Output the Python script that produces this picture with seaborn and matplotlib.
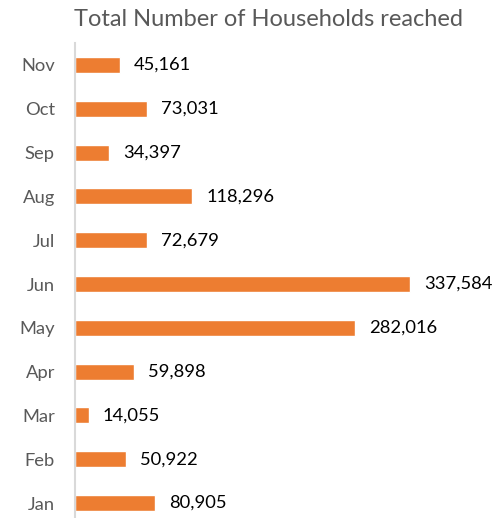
import matplotlib
matplotlib.use("Agg")
import matplotlib.pyplot as plt
import seaborn as sns
import pandas as pd

months = ["Nov", "Oct", "Sep", "Aug", "Jul", "Jun", "May", "Apr", "Mar", "Feb", "Jan"]
households = [45161, 73031, 34397, 118296, 72679, 337584, 282016, 59898, 14055, 50922, 80905]
title = "Total Number of Households reached"

sns.set_theme(style="white")
plt.rcParams['font.family'] = ['Lato', 'DejaVu Sans']

df = pd.DataFrame({"month": months, "value": households})

W, H = 494, 518
fig = plt.figure(figsize=(W / 100, H / 100), dpi=100)
ax = fig.add_axes([75 / W, 0, 400 / W, (518 - 43) / H])

sns.barplot(data=df, y="month", x="value", order=months, color="#ED7D31",
            width=0.365, saturation=1, ax=ax, orient="h")

ax.set_xlim(0, 403000)
ax.set_ylim(10.34, -0.5)
ax.set_xlabel("")
ax.set_ylabel("")
ax.set_xticks([])
for s in ["top", "right", "bottom"]:
    ax.spines[s].set_visible(False)
ax.spines["left"].set_color("#D9D9D9")
ax.spines["left"].set_linewidth(1.5)
ax.tick_params(axis="y", length=0, pad=14.5, labelsize=13.2, labelcolor="#595959")

for i, v in enumerate(households):
    ax.annotate(f"{v:,}", xy=(v, i), xytext=(14, 0), textcoords="offset pixels",
                va="center", ha="left", fontsize=13.2, color="#000000")

fig.text(268 / W, 1 - 20 / H, title, ha="center", va="center", fontsize=17, color="#595959")

fig.savefig("out.png", dpi=100)
